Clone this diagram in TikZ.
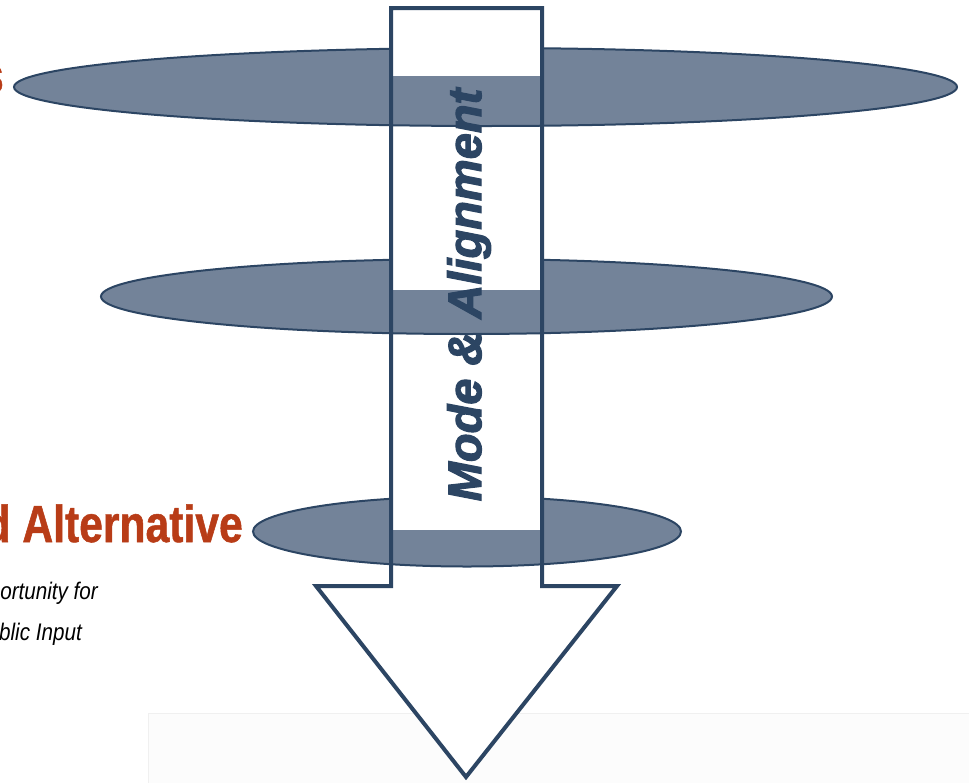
\documentclass[tikz,border=0pt]{standalone}
\usepackage{fontspec}
\setmainfont{Liberation Sans}
\newfontfamily\headfont[FakeStretch=0.82,FakeBold=1]{Liberation Sans}
\newfontfamily\notefont[FakeStretch=0.86]{Liberation Sans}
\newfontfamily\bandfont[FakeBold=2.5]{Liberation Sans}
\definecolor{navy}{HTML}{2C4563}
\definecolor{slate}{HTML}{738399}
\definecolor{rust}{HTML}{B83C17}
\begin{document}
\begin{tikzpicture}[x=1pt,y=-1pt,
  disc/.style={fill=slate,draw=navy,line width=2pt},
  arrowline/.style={draw=navy,line width=4pt,line join=miter},
  headtxt/.style={text=rust,font=\headfont\bfseries\fontsize{52}{60}\selectfont,inner sep=0pt},
  notetxt/.style={text=black,font=\notefont\itshape\fontsize{24}{28}\selectfont,inner sep=0pt},
  bandtxt/.style={text=navy,font=\bandfont\bfseries\itshape\fontsize{47}{56}\selectfont,inner sep=0pt}]
\useasboundingbox (0,0) rectangle (969,782);
% faint panel
\draw[draw=black!6,fill=black!1,line width=1pt] (148,713) rectangle (975,790);
% ellipses
\path[disc] (485.5,87) ellipse [x radius=471.5,y radius=39];
\path[disc] (466.5,296.5) ellipse [x radius=365.5,y radius=37.5];
\path[disc] (467,531.5) ellipse [x radius=214,y radius=35];
% arrow fill
\fill[white] (391,8) -- (542,8) -- (542,586) -- (617,586) -- (466,777) -- (316,586) -- (391,586) -- cycle;
% ellipse parts seen through the shaft
\begin{scope}
  \clip (391,76) rectangle (542,140);
  \path[disc] (485.5,87) ellipse [x radius=471.5,y radius=39];
\end{scope}
\begin{scope}
  \clip (391,290) rectangle (542,350);
  \path[disc] (466.5,296.5) ellipse [x radius=365.5,y radius=37.5];
\end{scope}
\begin{scope}
  \clip (391,530) rectangle (542,580);
  \path[disc] (467,531.5) ellipse [x radius=214,y radius=35];
\end{scope}
% arrow outline
\draw[arrowline] (391,8) -- (542,8) -- (542,586) -- (617,586) -- (466,777) -- (316,586) -- (391,586) -- cycle;
% texts
\node[bandtxt,rotate=90] (band) at (469,295) {Mode \& Alignment};
\node[headtxt,anchor=base east] (topcut) at (4,93) {s};
\node[headtxt,anchor=base east] (alt) at (243,542) {d Alternative};
\node[notetxt,anchor=base east] (note1) at (98,599) {ortunity for};
\node[notetxt,anchor=base east] (note2) at (82,640) {blic Input};
\end{tikzpicture}
\end{document}
